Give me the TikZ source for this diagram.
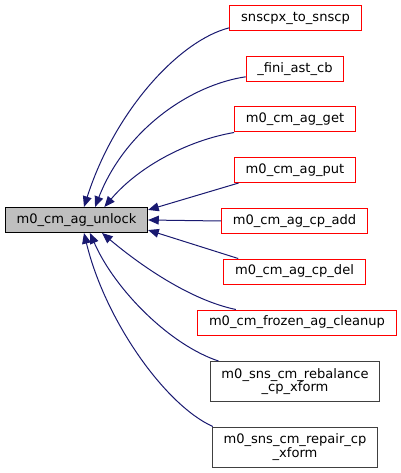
\documentclass[tikz,border=0pt]{standalone}
\usepackage{fontspec}
\setmainfont{DejaVu Sans}
\usepackage{xcolor}
\usetikzlibrary{arrows.meta}
\definecolor{midnight}{HTML}{191970}
\newcommand{\dox}{\fontsize{9.8}{10.2}\selectfont}

\begin{document}
\begin{tikzpicture}[x=0.75pt,y=-0.75pt,>={Triangle[length=8pt,width=6.6pt]},
    box/.style={draw,line width=0.75pt,font=\dox,inner xsep=8.4pt,inner ysep=2pt,minimum height=18.75pt},
    redbox/.style={box,draw=red},
    graybox/.style={box,draw=black!75,align=center,minimum height=30pt},
    edge/.style={<-,draw=midnight,line width=0.75pt}]
    \useasboundingbox (0,0) rectangle (400,473);
    % caller nodes
    \node[box,fill=black!25] (main) at (76.5,220) {m0\_cm\_ag\_unlock};
    \node[redbox] (snscpx) at (295.5,18.5) {snscpx\_to\_snscp};
    \node[redbox] (fini) at (295,69) {\_fini\_ast\_cb};
    \node[redbox] (get) at (295,119.5) {m0\_cm\_ag\_get};
    \node[redbox] (put) at (295,170) {m0\_cm\_ag\_put};
    \node[redbox] (cpadd) at (294.5,221) {m0\_cm\_ag\_cp\_add};
    \node[redbox] (cpdel) at (294.5,271.5) {m0\_cm\_ag\_cp\_del};
    \node[redbox] (frozen) at (297,322.5) {m0\_cm\_frozen\_ag\_cleanup};
    \node[graybox] (rebal) at (295,381.5) {m0\_sns\_cm\_rebalance\\\_cp\_xform};
    \node[graybox] (repair) at (295,447) {m0\_sns\_cm\_repair\_cp\\\_xform};
    % call edges
    \draw[edge] (main.60) .. controls (115,110) and (180,40) .. (snscpx.188);
    \draw[edge] (main.35) .. controls (125,130) and (190,85) .. (fini.189);
    \draw[edge] (main.25) .. controls (140,165) and (190,140) .. (get.south west);
    \draw[edge] (main.8) -- (put.193);
    \draw[edge] (main.east) -- (cpadd.west);
    \draw[edge] (main.-8) -- (cpdel.167);
    \draw[edge] (main.-27) .. controls (140,265) and (190,300) .. (frozen.168);
    \draw[edge] (main.-44) .. controls (115,290) and (170,345) .. (rebal.165);
    \draw[edge] (main.-60) .. controls (105,320) and (165,405) .. (repair.166);
\end{tikzpicture}
\end{document}
